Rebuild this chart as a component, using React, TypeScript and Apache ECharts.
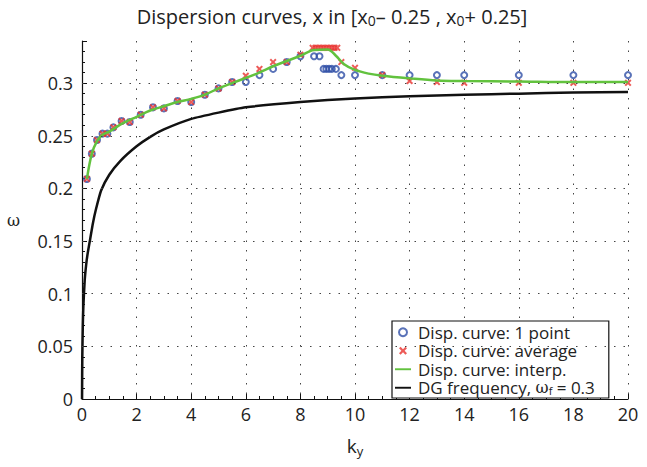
import React, { useEffect, useRef } from "react";
import * as echarts from "echarts";

// ---- data ----
const xTicks = [0, 2, 4, 6, 8, 10, 12, 14, 16, 18, 20];
const yGrid = [0.05, 0.1, 0.15, 0.2, 0.25, 0.3];

const onePointK = [0.18, 0.36, 0.55, 0.75, 0.93, 1.15, 1.45, 1.75, 2.15, 2.6, 3.0, 3.5, 4.0, 4.5, 5.0, 5.5, 6.0, 6.5, 7.0, 7.5, 8.0, 8.5, 8.7, 8.85, 8.95, 9.05, 9.15, 9.3, 9.5, 10, 11, 12, 13, 14, 16, 18, 20];
const onePointW = [0.209, 0.233, 0.246, 0.252, 0.252, 0.258, 0.264, 0.263, 0.27, 0.277, 0.276, 0.283, 0.282, 0.289, 0.295, 0.301, 0.301, 0.3076, 0.3135, 0.32, 0.3255, 0.3255, 0.3255, 0.3135, 0.3135, 0.3135, 0.3135, 0.3135, 0.3076, 0.3076, 0.3076, 0.3076, 0.3076, 0.3076, 0.3076, 0.3076, 0.3076];

const averageK = [0.18, 0.36, 0.55, 0.75, 0.93, 1.15, 1.45, 1.75, 2.15, 2.6, 3.0, 3.5, 4.0, 4.5, 5.0, 5.5, 6.0, 6.5, 7.0, 7.5, 8.0, 8.45, 8.55, 8.65, 8.75, 8.85, 8.95, 9.05, 9.15, 9.25, 9.35, 9.5, 10, 11, 12, 13, 14, 16, 18, 20];
const averageW = [0.209, 0.233, 0.246, 0.252, 0.252, 0.258, 0.264, 0.263, 0.27, 0.277, 0.276, 0.283, 0.282, 0.289, 0.295, 0.301, 0.307, 0.3135, 0.32, 0.32, 0.327, 0.3335, 0.3335, 0.3335, 0.3335, 0.3335, 0.3335, 0.3335, 0.3335, 0.3335, 0.3335, 0.32, 0.3145, 0.3076, 0.302, 0.301, 0.3003, 0.3003, 0.3003, 0.3003];

const interpK = [0.18, 0.36, 0.55, 0.75, 1.0, 1.5, 2.0, 2.5, 3.0, 3.5, 4.0, 4.5, 5.0, 5.5, 6.0, 6.5, 7.0, 7.5, 8.0, 8.5, 9.0, 9.3, 9.6, 10.0, 10.5, 11, 12, 13, 14, 16, 18, 20];
const interpW = [0.209, 0.233, 0.245, 0.251, 0.254, 0.262, 0.268, 0.274, 0.278, 0.282, 0.285, 0.289, 0.295, 0.3, 0.305, 0.31, 0.316, 0.321, 0.326, 0.3315, 0.332, 0.326, 0.318, 0.3125, 0.309, 0.307, 0.3045, 0.3025, 0.302, 0.3015, 0.301, 0.301];

const dgK = [0, 0.01, 0.03, 0.05, 0.1, 0.15, 0.2, 0.3, 0.4, 0.5, 0.7, 1.0, 1.4, 2, 2.5, 3, 4, 5, 6, 8, 10, 12, 14, 16, 18, 20];
const dgW = [0, 0.04, 0.07, 0.088, 0.113, 0.127, 0.137, 0.152, 0.167, 0.179, 0.198, 0.213, 0.226, 0.24, 0.249, 0.256, 0.266, 0.272, 0.277, 0.282, 0.2855, 0.2875, 0.289, 0.29, 0.291, 0.2915];

const names = [
  "Disp. curve: 1 point",
  "Disp. curve: average",
  "Disp. curve: interp.",
  "DG frequency, ωf = 0.3",
];

const FONT = "'Open Sans', 'Noto Sans', sans-serif";
const SERIF = "'DejaVu Serif', serif";
const XMARK = "path://M2,0 L5,3 L8,0 L10,2 L7,5 L10,8 L8,10 L5,7 L2,10 L0,8 L3,5 L0,2 Z";
const LINE_ICON = "path://M0,0 M20,10 M0,3.8 L20,3.8 L20,6.2 L0,6.2 Z";

const zip = (a: number[], b: number[]) => a.map((v, i) => [v, b[i]]);

export default function App() {
  const ref = useRef<HTMLDivElement>(null);
  useEffect(() => {
    if (!ref.current) return;
    const chart = echarts.init(ref.current, null, { renderer: "svg" });
    chart.setOption({
      animation: false,
      backgroundColor: "#fff",
      title: {
        text: "{a|Dispersion curves, x in [x}{s|0}{a|– 0.25 , x}{s|0}{a|+ 0.25]}",
        left: 327,
        textAlign: "center",
        top: 1,
        textStyle: {
          fontFamily: FONT,
          fontSize: 20,
          fontWeight: "normal",
          color: "#222",
          rich: {
            a: { fontFamily: FONT, fontSize: 20, fontWeight: "normal", color: "#222", lineHeight: 24, verticalAlign: "top" },
            s: { fontFamily: FONT, fontSize: 14, fontWeight: "normal", color: "#222", lineHeight: 24, verticalAlign: "top", padding: [7, 0, 0, 0] },
          },
        },
      },
      grid: { left: 82, right: 19, top: 41, bottom: 68, containLabel: false },
      legend: {
        orient: "vertical",
        left: 392,
        top: 321,
        padding: [2, 14, 1, 3],
        itemGap: 0,
        itemWidth: 20,
        itemHeight: 8,
        itemTextGap: 4,
        borderColor: "#111",
        borderWidth: 1.2,
        backgroundColor: "#fff",
        data: [
          { name: names[0] },
          { name: names[1] },
          { name: names[2], icon: LINE_ICON },
          { name: names[3], icon: LINE_ICON },
        ],
        formatter: (n: string) =>
          n === names[3] ? "DG frequency, {w|ω}{s|f} = 0.3" : n,
        textStyle: {
          fontFamily: FONT,
          fontSize: 17,
          color: "#222",
          lineHeight: 18.5,
          rich: {
            w: { fontFamily: SERIF, fontSize: 16, color: "#222", lineHeight: 18.5 },
            s: { fontFamily: FONT, fontSize: 11, color: "#222", lineHeight: 18.5, padding: [6, 0, 0, 0] },
          },
        },
      },
      xAxis: {
        type: "value",
        min: 0,
        max: 20,
        interval: 2,
        name: "{a|k}{s|y}",
        nameLocation: "middle",
        nameGap: 37,
        nameTextStyle: {
          rich: {
            a: { fontFamily: FONT, fontSize: 19, color: "#222", lineHeight: 22, verticalAlign: "top" },
            s: { fontFamily: FONT, fontSize: 13, color: "#222", lineHeight: 22, verticalAlign: "top", padding: [8, 0, 0, 0] },
          },
        },
        axisLine: { show: true, lineStyle: { color: "#111", width: 1.2 } },
        axisTick: { show: true, inside: true, length: 5, lineStyle: { color: "#111" } },
        minorTick: { show: true, splitNumber: 4, length: 3, lineStyle: { color: "#111" } },
        axisLabel: { fontFamily: FONT, fontSize: 18, color: "#222", margin: 6 },
        splitLine: { show: true, lineStyle: { type: [1.5, 8], color: "#444", width: 1 } },
      },
      yAxis: {
        type: "value",
        min: 0,
        max: 0.34,
        interval: 0.05,
        name: "ω",
        nameLocation: "middle",
        nameRotate: 0,
        nameGap: 62,
        nameTextStyle: { fontFamily: SERIF, fontSize: 16, color: "#222", padding: [0, 0, 46, 0] },
        axisLine: { show: true, lineStyle: { color: "#111", width: 1.2 } },
        axisTick: { show: true, inside: true, length: 5, lineStyle: { color: "#111" } },
        minorTick: { show: true, splitNumber: 5, length: 3, lineStyle: { color: "#111" } },
        axisLabel: { fontFamily: FONT, fontSize: 18, color: "#222", margin: 9, showMaxLabel: false },
        splitLine: { show: false },
      },
      series: [
        {
          name: names[0],
          type: "scatter",
          data: zip(onePointK, onePointW),
          symbol: "circle",
          symbolSize: 6,
          itemStyle: { color: "rgba(255,255,255,0)", borderColor: "#2f4fa6", borderWidth: 2 },
          markLine: {
            silent: true,
            symbol: "none",
            label: { show: false },
            lineStyle: { type: [1.5, 8], color: "#444", width: 1 },
            data: yGrid.map((v) => ({ yAxis: v })),
          },
        },
        {
          name: names[1],
          type: "scatter",
          data: zip(averageK, averageW),
          symbol: XMARK,
          symbolSize: 7,
          itemStyle: { color: "#e8322e" },
        },
        {
          name: names[2],
          type: "line",
          data: zip(interpK, interpW),
          showSymbol: false,
          symbol: "none",
          smooth: 0.35,
          lineStyle: { color: "#62c23e", width: 2.5 },
          itemStyle: { color: "#62c23e" },
        },
        {
          name: names[3],
          type: "line",
          data: zip(dgK, dgW),
          showSymbol: false,
          symbol: "none",
          smooth: 0.2,
          lineStyle: { color: "#111", width: 2.5 },
          itemStyle: { color: "#111" },
        },
      ],
    });
    return () => chart.dispose();
  }, []);
  return <div ref={ref} style={{ position: "absolute", left: 0, top: 0, width: 647, height: 467 }} />;
}
